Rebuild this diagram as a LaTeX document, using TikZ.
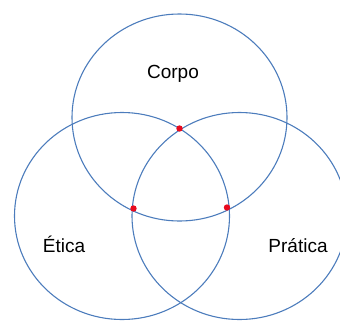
\documentclass[tikz,border=0pt]{standalone}
\usepackage{fontspec}
\setsansfont{Liberation Sans}
\usetikzlibrary{shapes.geometric}

\begin{document}
\begin{tikzpicture}[
    x=1pt, y=-1pt,
    ring style/.style={
        draw=ringblue,
        ellipse,
        line width=1.1pt,
        minimum width=2*\rx pt,
        minimum height=2*\ry pt,
        inner sep=0pt
    },
    label style/.style={
        anchor=base,
        inner sep=0pt,
        font=\sffamily\fontsize{19}{19}\selectfont
    },
    dot style/.style={
        fill=dotred
    }
]
\definecolor{ringblue}{RGB}{76,124,188}
\definecolor{dotred}{RGB}{232,10,30}

% Radii
\def\rx{107.5}
\def\ry{103.5}

\useasboundingbox (0,0) rectangle (340,322);
\clip (0,0) rectangle (340,322);

% Circles
\node[ring style] (corpo) at (179.5,117.5) {};
\node[ring style] (etica) at (122,216) {};
\node[ring style] (pratica) at (239.5,216) {};

% Labels
\node[label style] (corpolabel) at (173,78) {Corpo};
\node[label style] (eticalabel) at (64,252) {Ética};
\node[label style] (praticalabel) at (298,252) {Prática};

% Intersection dots
\fill[dot style] (179.5,128.5) circle (3.2);
\fill[dot style] (133.5,208.5) circle (3.2);
\fill[dot style] (227,207.5) circle (3.2);

\end{tikzpicture}
\end{document}
